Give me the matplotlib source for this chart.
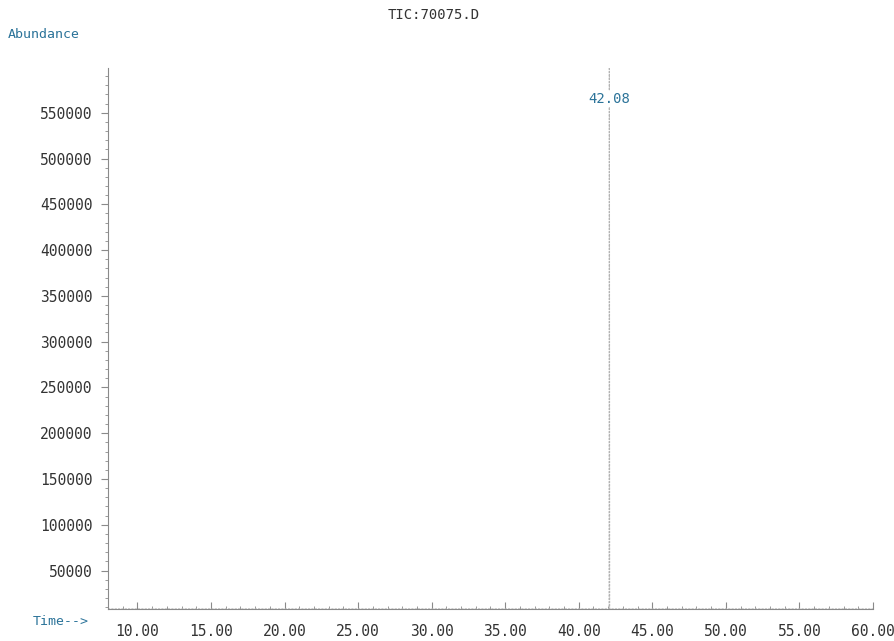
#!/usr/bin/env python3
"""Total ion chromatogram for sample 70075.D."""

import matplotlib

matplotlib.use("Agg")
import matplotlib.pyplot as plt
from matplotlib.ticker import MultipleLocator, FormatStrFormatter

# chromatogram trace (retention time in minutes, abundance in counts)
times = [8.0, 42.06, 42.08, 42.10, 60.0]
abundance = [8000, 8000, 640000, 8000, 8000]
peak_time = 42.08
peak_label = "42.08"

TEXT = "#333333"
ACCENT = "#2b7399"
AXIS = "#8a8a8a"

plt.rcParams["font.family"] = ["DejaVu Sans Mono"]

fig = plt.figure(figsize=(8.94, 6.41), dpi=100)
ax = fig.add_axes([0.1208, 0.050, 0.8557, 0.844])

ax.plot(times, abundance, color="#b4b4b4", linewidth=0.8, linestyle=(0, (2, 1)))
ax.text(peak_time, 565000, peak_label, color=ACCENT, fontsize=10,
        ha="center", va="center",
        bbox=dict(facecolor="white", edgecolor="none", pad=1))

ax.set_xlim(8.0, 60.0)
ax.set_ylim(8000, 599000)

ax.xaxis.set_major_locator(MultipleLocator(5))
ax.xaxis.set_minor_locator(MultipleLocator(1))
ax.xaxis.set_major_formatter(FormatStrFormatter("%.2f"))
ax.yaxis.set_major_locator(MultipleLocator(50000))
ax.yaxis.set_minor_locator(MultipleLocator(10000))
ax.yaxis.set_major_formatter(FormatStrFormatter("%d"))

for side in ("top", "right"):
    ax.spines[side].set_visible(False)
for side in ("left", "bottom"):
    ax.spines[side].set_color(AXIS)
    ax.spines[side].set_linewidth(0.8)

ax.tick_params(axis="both", which="major", width=0.8, color=AXIS,
               labelsize=10.5, labelcolor=TEXT)
ax.tick_params(axis="both", which="minor", length=2, width=0.6, color=AXIS)
ax.tick_params(axis="y", which="major", length=5, pad=6)
ax.tick_params(axis="x", which="both", direction="in")
ax.tick_params(axis="x", which="major", length=5, pad=11)

fig.text(0.485, 0.977, "TIC:70075.D", color=TEXT, fontsize=10,
         ha="center", va="center")
fig.text(0.009, 0.946, "Abundance", color=ACCENT, fontsize=9.5,
         ha="left", va="center")
fig.text(0.037, 0.030, "Time-->", color=ACCENT, fontsize=9.5,
         ha="left", va="center")

fig.savefig("out.png", dpi=100)
